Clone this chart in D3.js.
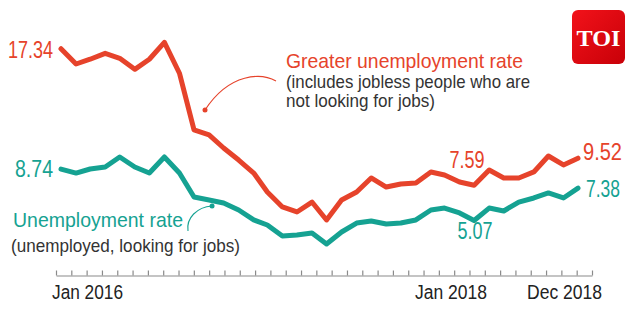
<!DOCTYPE html>
<html>
<head>
<meta charset="utf-8">
<script src="https://cdn.jsdelivr.net/npm/d3@7"></script>
<style>
  body { margin: 0; background: #fff; }
  text { font-family: "Liberation Sans Narrow", "Liberation Sans", Arial, sans-serif; }
</style>
</head>
<body>
<svg id="mainsvg" width="635" height="322"></svg>
<script>
const svg = d3.select('#mainsvg');
const width = +svg.attr('width');
const height = +svg.attr('height');

// monthly series, Jan 2016 .. Dec 2018
const months = [
  '2016-01','2016-02','2016-03','2016-04','2016-05','2016-06','2016-07','2016-08','2016-09','2016-10','2016-11','2016-12',
  '2017-01','2017-02','2017-03','2017-04','2017-05','2017-06','2017-07','2017-08','2017-09','2017-10','2017-11','2017-12',
  '2018-01','2018-02','2018-03','2018-04','2018-05','2018-06','2018-07','2018-08','2018-09','2018-10','2018-11','2018-12'
];
const greaterRate = [
  17.34, 16.25, 16.59, 17.01, 16.66, 15.87, 16.59, 17.80, 15.59, 11.54, 11.18, 10.25,
  9.39, 8.46, 7.11, 6.04, 5.68, 6.39, 5.11, 6.54, 7.11, 8.11, 7.46, 7.68,
  7.75, 8.54, 8.32, 7.82, 7.59, 8.68, 8.11, 8.11, 8.54, 9.68, 9.04, 9.52
];
const unemploymentRate = [
  8.74, 8.46, 8.75, 8.89, 9.61, 8.89, 8.46, 9.61, 8.46, 6.75, 6.54, 6.32,
  5.82, 5.11, 4.75, 3.96, 4.04, 4.18, 3.39, 4.25, 4.89, 5.04, 4.82, 4.89,
  5.11, 5.82, 5.96, 5.61, 5.07, 5.96, 5.75, 6.39, 6.68, 7.04, 6.68, 7.38
];
const axisLabels = ['Jan 2016', 'Jan 2018', 'Dec 2018'];

const RED = '#e6432b';
const TEAL = '#15a292';

const parse = d3.timeParse('%Y-%m');
const dates = months.map(parse);

const xScale = d3.scaleTime()
  .domain(d3.extent(dates))
  .range([61, 578]);
const yScale = d3.scaleLinear()
  .domain([0, 20])
  .range([291.5, 11.5]);

// tick strip under the chart, one tick per month
const tickScale = d3.scaleLinear().domain([0, months.length - 1]).range([56, 592]);
const axisY = 275.5;
const axisG = svg.append('g').attr('transform', `translate(0, ${axisY})`);
axisG.call(d3.axisTop(tickScale).tickValues(d3.range(months.length)).tickSize(5).tickSizeOuter(0).tickFormat(''));
axisG.select('.domain').attr('stroke', '#8a8a8a').attr('stroke-width', 1.2);
axisG.selectAll('.tick line').attr('stroke', '#8a8a8a').attr('stroke-width', 1.2);

// month labels
const labelG = svg.append('g');
labelG.append('text').attr('x', 52).attr('y', 299).attr('textLength', 71)
  .attr('lengthAdjust', 'spacingAndGlyphs')
  .style('font-size', '19.5px').attr('fill', '#222').text(axisLabels[0]);
labelG.append('text').attr('x', 415).attr('y', 299).attr('textLength', 72)
  .attr('lengthAdjust', 'spacingAndGlyphs')
  .style('font-size', '19.5px').attr('fill', '#222').text(axisLabels[1]);
labelG.append('text').attr('x', 527).attr('y', 299).attr('textLength', 75)
  .attr('lengthAdjust', 'spacingAndGlyphs')
  .style('font-size', '19.5px').attr('fill', '#222').text(axisLabels[2]);

// lines
const line = d3.line()
  .x((d, i) => xScale(dates[i]))
  .y(d => yScale(d));

svg.append('path')
  .attr('d', line(unemploymentRate))
  .attr('fill', 'none')
  .attr('stroke', TEAL)
  .attr('stroke-width', 5)
  .attr('stroke-linejoin', 'round')
  .attr('stroke-linecap', 'round');

svg.append('path')
  .attr('d', line(greaterRate))
  .attr('fill', 'none')
  .attr('stroke', RED)
  .attr('stroke-width', 5)
  .attr('stroke-linejoin', 'round')
  .attr('stroke-linecap', 'round');

// value labels
function valueLabel(series, i, color, dx, dy, anchor, len) {
  svg.append('text')
    .attr('x', xScale(dates[i]) + dx)
    .attr('y', yScale(series[i]) + dy)
    .attr('text-anchor', anchor)
    .attr('textLength', len)
    .attr('lengthAdjust', 'spacingAndGlyphs')
    .attr('fill', color)
    .style('font-size', '23px')
    .text(series[i].toFixed(2));
}
const last = months.length - 1;
valueLabel(greaterRate, 0, RED, -8, 9, 'end', 45);
valueLabel(unemploymentRate, 0, TEAL, -8, 8, 'end', 38);
valueLabel(greaterRate, 28, RED, -7, -17, 'middle', 35);
valueLabel(unemploymentRate, 28, TEAL, 1, 18.5, 'middle', 35);
valueLabel(greaterRate, last, RED, 5, 2, 'start', 39);
valueLabel(unemploymentRate, last, TEAL, 8, 9, 'start', 34);

// series titles
function note(x, y, txt, color, size, len) {
  svg.append('text').attr('x', x).attr('y', y)
    .attr('textLength', len).attr('lengthAdjust', 'spacingAndGlyphs')
    .attr('fill', color).style('font-size', size + 'px').text(txt);
}
note(286, 68, 'Greater unemployment rate', RED, 21, 237);
note(286, 88, '(includes jobless people who are', '#333', 19, 244);
note(286, 107, 'not looking for jobs)', '#333', 19, 149);
note(13, 227, 'Unemployment rate', TEAL, 21, 170);
note(11, 252, '(unemployed, looking for jobs)', '#333', 19, 229);

// pointer curves from titles to lines
const rdx = xScale(dates[9]) + 11, rdy = yScale(greaterRate[9]) - 20;
svg.append('path')
  .attr('d', `M276,81 C262,73 230,72 ${rdx},${rdy}`)
  .attr('fill', 'none').attr('stroke', RED).attr('stroke-width', 1.1);
svg.append('circle').attr('cx', rdx).attr('cy', rdy).attr('r', 2.5).attr('fill', RED);

const tdx = xScale(dates[10]) + 3, tdy = yScale(unemploymentRate[10]) + 6;
svg.append('path')
  .attr('d', `M188,231 C186,218 197,207 ${tdx},${tdy}`)
  .attr('fill', 'none').attr('stroke', TEAL).attr('stroke-width', 1.1);
svg.append('circle').attr('cx', tdx).attr('cy', tdy).attr('r', 2.5).attr('fill', TEAL);

// TOI badge
const defs = svg.append('defs');
const grad = defs.append('linearGradient').attr('id', 'toiGrad')
  .attr('x1', '0%').attr('y1', '0%').attr('x2', '100%').attr('y2', '100%');
grad.append('stop').attr('offset', '0%').attr('stop-color', '#f2121a');
grad.append('stop').attr('offset', '100%').attr('stop-color', '#c80008');
svg.append('rect').attr('x', 572).attr('y', 10).attr('width', 53).attr('height', 54)
  .attr('rx', 6).attr('fill', 'url(#toiGrad)');
svg.append('text').attr('x', 598.5).attr('y', 46).attr('text-anchor', 'middle')
  .attr('textLength', 44).attr('lengthAdjust', 'spacingAndGlyphs')
  .style('font-family', '"Liberation Serif", "DejaVu Serif", serif')
  .style('font-size', '23px').style('font-weight', 'bold')
  .attr('fill', '#fff').text('TOI');
</script>
</body>
</html>
